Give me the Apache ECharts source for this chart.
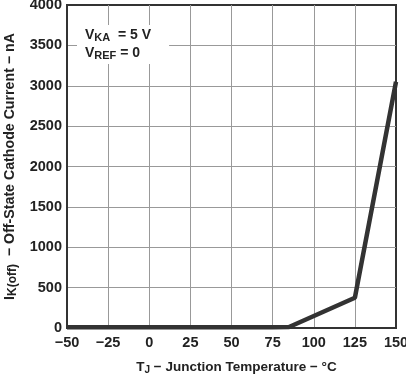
<!DOCTYPE html>
<html><head><meta charset="utf-8">
<script src="https://cdn.jsdelivr.net/npm/echarts@6/dist/echarts.min.js"></script>
<style>html,body{margin:0;padding:0;background:#fff}#c{width:406px;height:374px}</style>
</head><body><div id="c"></div>
<script>
const temps = [-50, -25, 0, 25, 50, 75, 85, 125, 150];
const currents = [10, 10, 10, 10, 10, 10, 12, 375, 3050];
const xTicks = ['−50', '−25', '0', '25', '50', '75', '100', '125', '150'];
const yTicks = ['0', '500', '1000', '1500', '2000', '2500', '3000', '3500', '4000'];

const chart = echarts.init(document.getElementById('c'));
const F = 'Liberation Sans, Arial, sans-serif';
chart.setOption({
  animation: false,
  grid: { left: 67, right: 10, top: 5, bottom: 46, outerBoundsMode: 'none', containLabel: false,
          show: true, borderColor: '#333', borderWidth: 2, backgroundColor: 'transparent' },
  xAxis: {
    type: 'value', min: -50, max: 150, interval: 25,
    name: '{m|T}{s|J}{m| − Junction Temperature − °C}',
    nameLocation: 'middle', nameGap: 31,
    nameTextStyle: {
      padding: [0, 0, 0, 10],
      rich: {
        m: { fontFamily: F, fontWeight: 'bold', fontSize: 13.5, color: '#222', lineHeight: 16 },
        s: { fontFamily: F, fontWeight: 'bold', fontSize: 10, color: '#222', lineHeight: 16, padding: [6, 0, 0, 0] }
      }
    },
    axisLine: { show: true, onZero: false, lineStyle: { color: '#333', width: 2 } },
    axisTick: { show: false },
    splitLine: { show: true, showMinLine: false, showMaxLine: false, lineStyle: { color: '#999', width: 1 } },
    axisLabel: {
      margin: 7, fontFamily: F, fontWeight: 'bold', fontSize: 14.5, color: '#222',
      formatter: v => xTicks[Math.round((v + 50) / 25)]
    }
  },
  yAxis: {
    type: 'value', min: 0, max: 4000, interval: 500,
    name: '{m|I}{s|K(off)}{m|  − Off-State Cathode Current − nA}',
    nameLocation: 'middle', nameGap: 47, nameRotate: 90,
    nameTextStyle: {
      rich: {
        m: { fontFamily: F, fontWeight: 'bold', fontSize: 14.2, color: '#222', lineHeight: 17 },
        s: { fontFamily: F, fontWeight: 'bold', fontSize: 12, color: '#222', lineHeight: 17, padding: [6, 0, 0, 0] }
      }
    },
    axisLine: { show: true, onZero: false, lineStyle: { color: '#333', width: 2 } },
    axisTick: { show: false },
    splitLine: { show: true, showMinLine: false, showMaxLine: false, lineStyle: { color: '#999', width: 1 } },
    axisLabel: {
      margin: 5, fontFamily: F, fontWeight: 'bold', fontSize: 14.5, color: '#222',
      formatter: v => yTicks[Math.round(v / 500)]
    }
  },
  graphic: [
    {
      type: 'text', left: 77, top: 25, z: 5,
      style: {
        text: '{m|V}{s|KA}{m|  = 5 V}\n{m|V}{s|REF}{m| = 0}',
        backgroundColor: '#fff', padding: [1, 18, 2, 8],
        rich: {
          m: { fontFamily: F, fontWeight: 'bold', fontSize: 14, fill: '#222', lineHeight: 18 },
          s: { fontFamily: F, fontWeight: 'bold', fontSize: 11, fill: '#222', lineHeight: 18, padding: [6, 0, 0, 0] }
        }
      }
    }
  ],
  series: [{
    type: 'line', data: temps.map((t, i) => [t, currents[i]]),
    showSymbol: false, lineStyle: { color: '#333', width: 4.5 }, z: 3
  }]
});
</script></body></html>
